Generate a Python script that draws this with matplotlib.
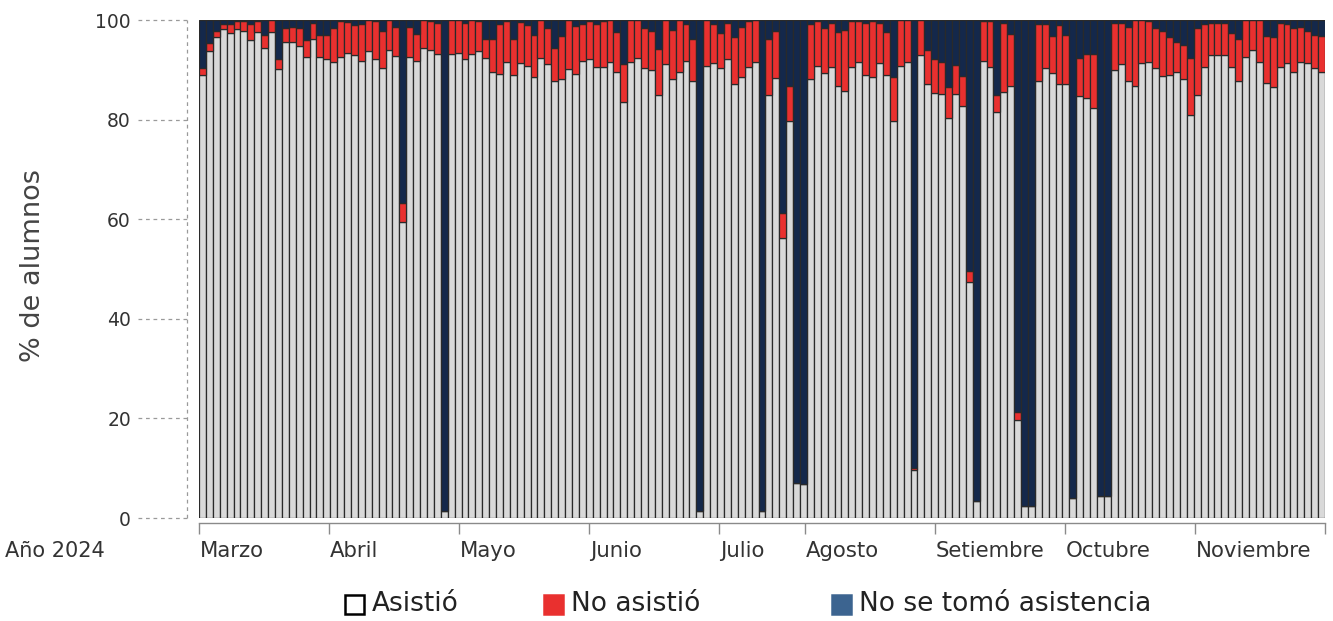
import matplotlib
matplotlib.use('Agg')
import matplotlib.pyplot as plt
import matplotlib.transforms as mtransforms
from matplotlib.patches import Rectangle
import numpy as np

plt.rcParams['font.family'] = ['DejaVu Sans']

# % of students per school day
asistio = [
    89.0, 93.8, 96.5, 98.1, 97.3, 98.1, 97.8, 96.0, 97.5, 94.3,
    97.5, 90.1, 95.6, 95.6, 94.8, 92.6, 96.2, 92.6, 92.1, 91.6,
    92.6, 93.3, 93.0, 91.8, 93.8, 92.1, 90.3, 94.0, 92.8, 59.5,
    92.6, 91.8, 94.3, 94.0, 93.1, 1.5, 93.1, 93.4, 92.1, 93.1,
    93.8, 92.4, 89.5, 89.1, 91.6, 89.0, 91.3, 90.8, 88.6, 92.4,
    91.1, 87.8, 88.2, 90.1, 89.1, 91.8, 92.2, 90.5, 90.5, 91.6,
    89.5, 83.5, 91.6, 92.4, 90.3, 90.0, 84.9, 91.1, 88.2, 89.6,
    91.8, 87.8, 1.5, 90.8, 91.3, 90.3, 92.2, 87.1, 88.6, 90.5,
    91.6, 1.5, 84.9, 88.4, 56.2, 79.7, 7.0, 6.8, 88.2, 90.8,
    89.3, 90.5, 86.8, 85.7, 90.5, 91.5, 89.0, 88.6, 91.3, 89.0,
    79.7, 90.8, 91.6, 9.6, 93.0, 87.1, 85.4, 85.1, 80.4, 85.1,
    82.8, 47.4, 3.4, 91.8, 90.5, 81.6, 85.6, 86.8, 19.7, 2.5,
    2.5, 87.8, 90.3, 89.4, 87.1, 87.1, 4.0, 84.7, 84.4, 82.3,
    4.4, 4.4, 90.0, 91.1, 87.8, 86.8, 91.3, 91.6, 90.3, 88.8,
    89.0, 89.5, 88.2, 80.9, 84.9, 90.5, 93.0, 93.0, 93.0, 90.5,
    87.8, 92.6, 94.0, 91.6, 87.3, 86.5, 90.5, 91.3, 89.5, 91.5,
    91.3, 90.3, 89.5,
]
no_asistio = [
    1.3, 1.5, 1.3, 1.0, 1.8, 1.7, 2.0, 3.1, 2.3, 2.7,
    2.4, 2.0, 2.7, 2.9, 3.5, 3.4, 3.1, 4.3, 4.9, 6.7,
    7.2, 6.3, 6.0, 7.3, 6.1, 7.6, 7.5, 6.0, 5.8, 3.8,
    5.9, 5.4, 5.7, 5.7, 6.2, 0.0, 6.9, 6.6, 7.2, 6.9,
    5.9, 3.8, 6.7, 10.0, 8.2, 7.2, 8.2, 8.2, 8.4, 7.6,
    7.2, 6.5, 8.5, 9.9, 9.6, 7.4, 7.5, 8.6, 9.2, 8.4,
    8.0, 7.6, 8.4, 7.6, 8.0, 7.8, 9.2, 8.9, 9.8, 10.4,
    7.3, 8.4, 0.0, 9.2, 7.8, 7.0, 7.1, 9.4, 9.9, 9.2,
    8.4, 0.0, 11.3, 9.4, 5.0, 7.1, 0.0, 0.0, 10.9, 8.9,
    9.0, 8.8, 10.7, 12.3, 9.2, 8.3, 10.3, 11.1, 8.0, 8.5,
    8.9, 9.2, 8.4, 0.4, 7.0, 6.9, 6.7, 6.5, 6.1, 5.9,
    6.0, 2.2, 0.0, 8.0, 9.2, 3.4, 13.7, 10.4, 1.6, 0.0,
    0.0, 11.3, 8.8, 7.3, 11.9, 9.8, 0.0, 7.7, 8.7, 10.8,
    0.0, 0.0, 9.3, 8.2, 10.7, 13.2, 8.6, 8.1, 8.0, 9.0,
    7.5, 6.0, 6.8, 11.4, 13.4, 8.6, 6.3, 6.3, 6.3, 6.8,
    8.4, 7.4, 6.0, 8.4, 9.4, 10.0, 8.8, 7.8, 8.8, 7.0,
    6.5, 6.7, 7.2,
]
months = ['Marzo', 'Abril', 'Mayo', 'Junio', 'Julio', 'Agosto',
          'Setiembre', 'Octubre', 'Noviembre']
month_start = [-0.5, 18.3, 37.15, 55.95, 74.8, 87.25, 106.05, 124.85, 143.7]
yticks = [0, 20, 40, 60, 80, 100]
legend_labels = ['Asistió', 'No asistió', 'No se tomó asistencia']

c_gray = '#d9d9d9'
c_red = '#e9302f'
c_navy = '#14284b'
c_leg_blue = '#3c6490'
c_edge = '#2a2a2a'
c_text = '#333333'

a = np.array(asistio)
n = np.array(no_asistio)
b = 100 - a - n
x = np.arange(len(a))

W, H = 1333, 621
fig = plt.figure(figsize=(W / 100, H / 100), dpi=100)
ax = fig.add_axes([199 / W, 103 / H, 1126 / W, 498 / H])

kw = dict(width=1.0, edgecolor=c_edge, linewidth=0.9)
ax.bar(x, a, color=c_gray, **kw)
ax.bar(x, n, bottom=a, color=c_red, **kw)
ax.bar(x, b, bottom=a + n, color=c_navy, **kw)

ax.set_xlim(-0.5, len(a) - 0.5)
ax.set_ylim(0, 100)
for s in ['top', 'right', 'left']:
    ax.spines[s].set_visible(False)
ax.spines['bottom'].set_position(('outward', 3.5))
ax.spines['bottom'].set_color('#8a8a8a')
ax.spines['bottom'].set_linewidth(1.0)
ax.set_xticks(month_start + [len(a) - 0.5])
ax.set_xticklabels([])
ax.tick_params(axis='x', length=8, color='#8a8a8a', width=1.0)

# y axis: dashed guide lines and labels
ax.set_yticks(yticks)
ax.set_yticklabels([str(v) for v in yticks], fontsize=13.5, color=c_text)
ax.tick_params(axis='y', length=0, pad=49)
bt = mtransforms.blended_transform_factory(ax.transAxes, ax.transData)
xa = -12 / 1126
xl = -61 / 1126
for v in yticks:
    ax.plot([xl, xa], [v, v], transform=bt, color='#9a9a9a', lw=0.9,
            ls=(0, (3, 3)), clip_on=False)
ax.plot([xa, xa], [0, 100], transform=bt, color='#9a9a9a', lw=0.9,
        ls=(0, (3, 3)), clip_on=False)

fig.text(33 / W, 1 - 266 / H, '% de alumnos', rotation=90, ha='center',
         va='center', fontsize=19.5, color='#444444')

# month labels
mt = mtransforms.blended_transform_factory(ax.transData, ax.transAxes)
mt = mtransforms.offset_copy(mt, fig=fig, x=1, y=0, units='dots')
for m, p in zip(months, month_start):
    ax.text(p, -33 / 498, m, transform=mt, ha='left', va='center',
            fontsize=15.3, color=c_text)
fig.text(5 / W, 1 - 551 / H, 'Año 2024', ha='left', va='center',
         fontsize=15, color=c_text)

# legend
leg_x = [345, 544, 832]
leg_fc = ['white', c_red, c_leg_blue]
leg_ec = ['black', c_red, c_leg_blue]
sq = 19
for lx, lab, fc, ec in zip(leg_x, legend_labels, leg_fc, leg_ec):
    fig.patches.append(Rectangle((lx / W, 1 - (604 + sq / 2) / H), sq / W, sq / H,
                                 transform=fig.transFigure, facecolor=fc,
                                 edgecolor=ec, linewidth=1.8))
    fig.text((lx + sq + 8) / W, 1 - 604 / H, lab, ha='left', va='center',
             fontsize=19, color='#222222')

fig.savefig('out.png', dpi=100)
